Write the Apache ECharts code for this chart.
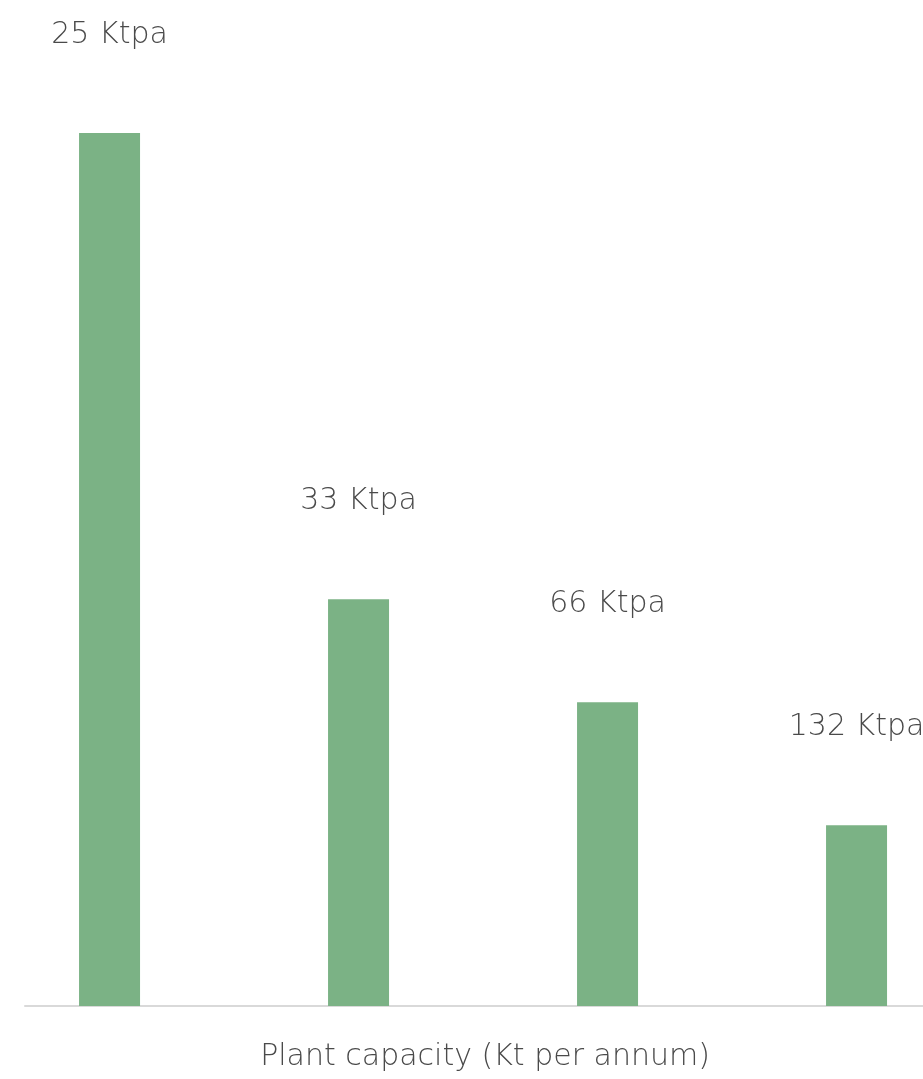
<!DOCTYPE html>
<html>
<head>
<meta charset="utf-8">
<script src="https://cdn.jsdelivr.net/npm/echarts@6/dist/echarts.min.js"></script>
<style>html,body{margin:0;padding:0;background:#fff;}#c{width:923px;height:1079px;}</style>
</head>
<body>
<div id="c"></div>
<script>
const categories = ['25 Ktpa', '33 Ktpa', '66 Ktpa', '132 Ktpa'];
const values = [100, 46.6, 34.8, 20.7];
const spacer = [null, null, null, null];
const axisName = 'Plant capacity (Kt per annum)';

const chart = echarts.init(document.getElementById('c'));
const font = '"DejaVu Sans ExtraLight", "DejaVu Sans", sans-serif';
chart.setOption({
  animation: false,
  grid: { left: 25, width: 996, top: 133, bottom: 73, containLabel: false, outerBoundsMode: 'none' },
  xAxis: {
    type: 'category',
    data: categories,
    axisLine: { show: true, lineStyle: { color: '#d9d9d9', width: 2 } },
    axisTick: { show: false },
    axisLabel: { show: false },
    name: axisName,
    nameLocation: 'middle',
    nameGap: 36,
    nameTextStyle: { color: '#4a4a4a', fontSize: 30, fontWeight: 200, fontFamily: font, padding: [0, 76, 0, 0] }
  },
  yAxis: { type: 'value', min: 0, max: 100, show: false, splitLine: { show: false } },
  series: [
    {
      type: 'bar',
      data: values,
      barWidth: 61,
      barGap: '31%',
      itemStyle: { color: '#7bb285' },
      label: {
        show: true,
        position: 'top',
        distance: 83,
        formatter: '{b}',
        color: '#4a4a4a',
        fontSize: 30,
        fontWeight: 200,
        fontFamily: font
      }
    },
    {
      type: 'bar',
      data: spacer,
      barWidth: 61,
      itemStyle: { color: 'transparent' }
    }
  ]
});
</script>
</body>
</html>
